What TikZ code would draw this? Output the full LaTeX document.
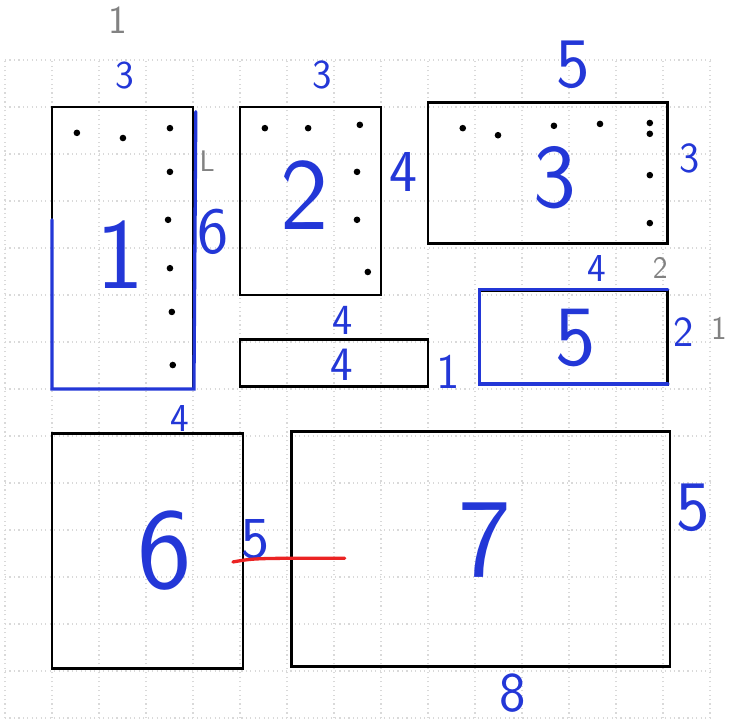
\documentclass[tikz,border=0pt]{standalone}
\usepackage{fontspec}
\usetikzlibrary{positioning}
\definecolor{inkblue}{RGB}{35,55,215}
\definecolor{pencil}{RGB}{130,130,130}
\definecolor{penred}{RGB}{235,35,35}
\newcommand{\handsize}[1]{\fontsize{#1}{#1}\selectfont\sffamily}

\begin{document}
\begin{tikzpicture}[
        box/.style = {draw, line width=1.5pt, inner sep=0pt, outer sep=0pt},
        ink/.style = {text=inkblue, inner sep=0pt},
        pencilnote/.style = {text=pencil, inner sep=0pt}
    ]
        \useasboundingbox (-0.106,-0.149) rectangle (15.426,15.277);
        \draw[gray!30, dotted, line width=0.7pt] (0,0) grid (15,14);

        \node[box, minimum width=3cm, minimum height=6cm] (b1) at (2.5,10) {};
        \node[box, minimum width=3cm, minimum height=4cm] (b2) at (6.5,11) {};
        \node[box, minimum width=5.1cm, minimum height=3cm] (b3) at (11.55,11.6) {};
        \node[box, minimum width=4cm, minimum height=1cm] (b4) at (7,7.55) {};
        \node[box, minimum width=4cm, minimum height=2cm] (b5) at (12.1,8.1) {};
        \node[box, minimum width=4.06cm, minimum height=5cm] (b6) at (3.03,3.55) {};
        \node[box, minimum width=8.05cm, minimum height=5cm] (b7) at (10.125,3.6) {};

        \draw[inkblue, line width=2pt, line cap=round] (1,10.6) -- (1,7) -- (4.02,7) -- (4.06,12.9);
        \draw[inkblue, line width=2.2pt, line cap=round] (14.1,9.12) -- (10.1,9.12) -- (10.1,7.1) -- (14.1,7.1);

        \foreach \p in {(1.53,12.45),(2.51,12.34),(3.51,12.55),(3.51,11.62),(3.47,10.6),(3.51,9.57),(3.55,8.64),(3.57,7.51),
                        (5.53,12.55),(6.45,12.55),(7.55,12.62),(7.49,11.62),(7.49,10.6),(7.72,9.49),
                        (9.74,12.55),(10.49,12.4),(11.68,12.6),(12.66,12.64),(13.72,12.66),(13.72,12.43),(13.72,11.55),(13.72,10.53)}
            \fill \p circle (2pt);

        \node[pencilnote, font=\handsize{24}] (p1) at (2.4,14.85) {1};
        \node[pencilnote, font=\handsize{18}] (p2) at (4.3,11.85) {L};
        \node[pencilnote, font=\handsize{19}] (p3) at (13.94,9.57) {2};
        \node[pencilnote, font=\handsize{20}] (p4) at (15.2,8.3) {1};

        \node[ink, font=\handsize{24}] (t1) at (2.55,13.68) {3};
        \node[ink, font=\handsize{40}] (r1) at (4.43,10.34) {6};
        \node[ink, font=\handsize{61}] (n1) at (2.45,9.85) {1};

        \node[ink, font=\handsize{25}] (t2) at (6.74,13.68) {3};
        \node[ink, font=\handsize{36}] (r2) at (8.47,11.62) {4};
        \node[ink, font=\handsize{62}] (n2) at (6.38,11.13) {2};

        \node[ink, font=\handsize{43}] (t3) at (12.09,13.89) {5};
        \node[ink, font=\handsize{26}] (r3) at (14.57,11.91) {3};
        \node[ink, font=\handsize{55}] (n3) at (11.7,11.49) {3};

        \node[ink, font=\handsize{26}] (t4) at (7.19,8.47) {4};
        \node[ink, font=\handsize{29}] (n4) at (7.17,7.51) {4};
        \node[ink, font=\handsize{30}] (r4) at (9.43,7.36) {1};

        \node[ink, font=\handsize{24}] (t5) at (12.6,9.57) {4};
        \node[ink, font=\handsize{26}] (r5) at (14.43,8.21) {2};
        \node[ink, font=\handsize{52}] (n5) at (12.15,8.09) {5};

        \node[ink, font=\handsize{24}] (t6) at (3.72,6.38) {4};
        \node[ink, font=\handsize{36}] (r6) at (5.32,3.79) {5};
        \node[ink, font=\handsize{70}] (n6) at (3.4,3.57) {6};

        \node[ink, font=\handsize{68}] (n7) at (10.21,3.79) {7};
        \node[ink, font=\handsize{43}] (r7) at (14.64,4.47) {5};
        \node[ink, font=\handsize{34}] (d7) at (10.81,0.52) {8};

        \coordinate (cutA) at (4.85,3.32);
        \coordinate (cutB) at (7.23,3.40);
        \draw[penred, line width=2pt, line cap=round] (cutA) .. controls (5.3,3.40) .. (cutB);
\end{tikzpicture}
\end{document}
